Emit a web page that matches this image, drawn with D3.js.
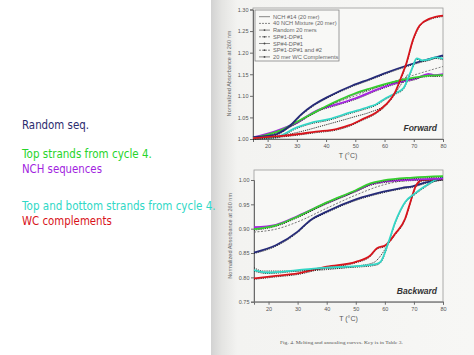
<!DOCTYPE html>
<html><head><meta charset="utf-8">
<script src="https://cdn.jsdelivr.net/npm/d3@7"></script>
<style>html,body{margin:0;padding:0;background:#fff;}svg{display:block;}</style>
</head><body>
<script>
// ---- data ----
const slideLines = [
  {text:"Random seq.", color:"#2b2b6e", y:129, w:67},
  {text:"Top strands from cycle 4.", color:"#27d42a", y:158, w:130},
  {text:"NCH sequences", color:"#a21fe0", y:173, w:80},
  {text:"Top and bottom strands from cycle 4.", color:"#2fd8c6", y:210, w:194},
  {text:"WC complements", color:"#d8131a", y:225, w:90}
];
const legendLabels = ["NCH #14 (20 mer)","40 NCH Mixture (20 mer)","Random 20 mers","SP#1-DP#1","SP#4-DP#1","SP#1-DP#1 and #2","20 mer WC Complements"];
const xTicks = [20,30,40,50,60,70,80];
const fwdYTicks = [1.00,1.05,1.10,1.15,1.20,1.25,1.30];
const bwdYTicks = [0.75,0.80,0.85,0.90,0.95,1.00];

// Forward (melting)
const fwdRandom = [[15,1.004],[20,1.007],[23,1.011],[27.5,1.030],[31.5,1.057],[35.5,1.078],[41,1.099],[49,1.124],[55,1.139],[59.5,1.151],[68.5,1.172],[74,1.183],[80,1.194]];
const fwdGreen  = [[15,1.003],[20,1.010],[25,1.022],[30,1.040],[35,1.058],[40,1.076],[45,1.092],[50,1.106],[55,1.117],[59.5,1.126],[66,1.137],[70,1.142],[75,1.147],[80,1.148]];
const fwdPurple = [[15,1.004],[23,1.019],[30,1.038],[36.5,1.065],[43.5,1.080],[50,1.094],[58,1.116],[64,1.130],[71,1.141],[75,1.151],[77,1.148],[80,1.150]];
const fwdGrayDash = [[15,1.002],[25,1.018],[32,1.045],[40,1.075],[50,1.100],[60,1.126],[70,1.148],[80,1.168]];
const fwdCyan   = [[15,1.002],[23,1.005],[30,1.027],[34.5,1.037],[41,1.046],[48,1.061],[54,1.073],[57,1.080],[60.5,1.095],[64,1.107],[66.5,1.118],[68,1.140],[69.5,1.165],[71,1.187],[73,1.182],[75,1.184],[77.5,1.189],[80,1.186]];
const fwdRed    = [[15,1.002],[23,1.006],[30,1.011],[36.5,1.017],[43.5,1.023],[48,1.032],[52.5,1.046],[57,1.061],[60.5,1.080],[63.5,1.107],[65.8,1.145],[67.5,1.176],[69.7,1.229],[72,1.263],[75.5,1.279],[80,1.286]];
const fwdBlackDot = [[15,1.000],[25,1.008],[30,1.015],[40,1.033],[50,1.052],[55,1.062],[60,1.078],[63,1.100],[66,1.130],[68,1.150]];

// Backward (annealing)
const bwdRandom = [[15,0.851],[22.5,0.866],[30,0.894],[34.5,0.918],[40,0.935],[50,0.960],[59.5,0.976],[66,0.984],[69.5,0.987],[74,0.995],[80,1.002]];
const bwdGreen  = [[15,0.899],[22.5,0.907],[30,0.925],[40,0.954],[50,0.979],[55,0.993],[59.5,0.999],[69.5,1.005],[80,1.008]];
const bwdPurple = [[15,0.903],[22.5,0.908],[30,0.926],[40,0.953],[50,0.978],[55,0.991],[60,0.997],[70,1.001],[80,1.003]];
const bwdGrayDash = [[15,0.893],[22.5,0.899],[30,0.914],[40,0.942],[50,0.969],[59.5,0.990],[69.5,1.000],[80,1.002]];
const bwdRed    = [[15,0.798],[22.5,0.803],[30,0.808],[40,0.822],[50,0.832],[55,0.845],[57.3,0.860],[60.2,0.866],[63.6,0.890],[67,0.921],[68.8,0.955],[70.5,0.986],[72.8,1.000],[80,1.002]];
const bwdCyan   = [[15,0.815],[19.5,0.810],[30,0.815],[40,0.820],[50,0.823],[56.8,0.827],[58.5,0.832],[61.3,0.873],[63.6,0.914],[67,0.955],[70.5,0.973],[74,0.988],[77.4,1.000],[80,1.005]];
const bwdBlackDot = [[15,0.820],[18,0.813],[30,0.813],[40,0.816],[50,0.823],[56,0.830],[59,0.848],[61,0.868]];

// ---- drawing ----
const W = 474, H = 355;
const svg = d3.select("body").append("svg").attr("width", W).attr("height", H);
const defs = svg.append("defs");
const grad = defs.append("linearGradient").attr("id","pageGrad").attr("x1","0").attr("x2","1");
grad.append("stop").attr("offset","0").attr("stop-color","#d2d2d2");
grad.append("stop").attr("offset","0.04").attr("stop-color","#e4e4e2");
grad.append("stop").attr("offset","0.10").attr("stop-color","#f3f3f1");
grad.append("stop").attr("offset","1").attr("stop-color","#f7f7f5");
svg.append("rect").attr("x",211).attr("y",0).attr("width",W-211).attr("height",H).attr("fill","url(#pageGrad)");

// slide text (horizontally scaled to the reference widths)
svg.selectAll("text.slide").data(slideLines).join("text")
  .attr("class","slide").attr("x",0).attr("y",0)
  .attr("font-family","'DejaVu Sans', Verdana, sans-serif").attr("font-size",12.5)
  .attr("fill",d=>d.color)
  .text(d=>d.text)
  .each(function(d){
    const nat = this.getComputedTextLength();
    const s = nat > 0 ? d.w/nat : 1;
    d3.select(this).attr("transform",`translate(22,${d.y}) scale(${s},1)`);
  });

const axisColor = "#6a6a6a", tickText = "#555";
function chart(cfg){
  const x = d3.scaleLinear().domain([15,80]).range([cfg.x0, cfg.x1]);
  const y = d3.scaleLinear().domain(cfg.yDomain).range([cfg.yBottom, cfg.yTopVal]);
  const g = svg.append("g");
  g.append("rect").attr("x",cfg.x0).attr("y",cfg.boxTop).attr("width",cfg.x1-cfg.x0).attr("height",cfg.yBottom-cfg.boxTop)
    .attr("fill","#f8f8f6").attr("stroke","#9a9a9a").attr("stroke-width",0.8);
  const xa = g.append("g").attr("transform",`translate(0,${cfg.yBottom})`)
    .call(d3.axisBottom(x).tickValues(xTicks).tickSize(3).tickPadding(2).tickFormat(d3.format("d")));
  const ya = g.append("g").attr("transform",`translate(${cfg.x0},0)`)
    .call(d3.axisLeft(y).tickValues(cfg.yTicks).tickSize(3).tickPadding(1.5).tickFormat(d3.format(".2f")));
  [xa,ya].forEach(a=>{
    a.select(".domain").attr("stroke",axisColor);
    a.selectAll(".tick line").attr("stroke",axisColor);
    a.selectAll("text").attr("fill",tickText).attr("font-size",5.5).attr("font-family","'Liberation Sans', Arial, sans-serif");
  });
  g.append("text").attr("x",(cfg.x0+cfg.x1)/2).attr("y",cfg.yBottom+19).attr("text-anchor","middle")
    .attr("font-family","'Liberation Sans', Arial, sans-serif").attr("font-size",7).attr("fill","#555").text("T (°C)");
  const cy = (cfg.boxTop+cfg.yBottom)/2;
  g.append("text").attr("transform",`translate(${cfg.x0-22},${cy}) rotate(-90)`).attr("text-anchor","middle")
    .attr("font-family","'Liberation Sans', Arial, sans-serif").attr("font-size",5.6).attr("fill","#666").text("Normalized Absorbance at 260 nm");
  g.append("text").attr("x",cfg.x1-6).attr("y",cfg.yBottom-8).attr("text-anchor","end")
    .attr("font-family","'Liberation Sans', Arial, sans-serif").attr("font-size",8.5).attr("font-weight","bold").attr("font-style","italic")
    .attr("fill","#333").text(cfg.label);
  const line = d3.line().x(d=>x(d[0])).y(d=>y(d[1])).curve(d3.curveMonotoneX);
  cfg.series.forEach(s=>{
    if (s.under) g.append("path").attr("d",line(s.data)).attr("fill","none").attr("stroke","#222")
        .attr("stroke-width",1).attr("stroke-dasharray","1.2,1").attr("transform","translate(0,1)");
    g.append("path").attr("d",line(s.data)).attr("fill","none").attr("stroke",s.color)
      .attr("stroke-width",s.width||1.8).attr("stroke-dasharray",s.dash||null).attr("stroke-linejoin","round");
  });
  return {x,y,g};
}

const topChart = chart({x0:253, x1:443, boxTop:8, yBottom:139, yTopVal:9.5, yDomain:[1.00,1.30], yTicks:fwdYTicks, label:"Forward",
  series:[
    {data:fwdGrayDash, color:"#777", width:0.9, dash:"2,1.5"},
    {data:fwdBlackDot, color:"#333", width:1, dash:"1.2,1"},
    {data:fwdPurple, color:"#a524e0", under:true},
    {data:fwdGreen, color:"#35cf2e", under:true},
    {data:fwdRandom, color:"#252a78", under:true},
    {data:fwdCyan, color:"#33d6c6", under:true},
    {data:fwdRed, color:"#d8141c", under:true}
  ]});
const lg = topChart.g.append("g");
lg.append("rect").attr("x",255).attr("y",10).attr("width",84).attr("height",51).attr("fill","#f8f8f6").attr("stroke","#777").attr("stroke-width",0.7);
legendLabels.forEach((t,i)=>{
  const yy = 16.7 + i*6.7;
  lg.append("line").attr("x1",259).attr("x2",270).attr("y1",yy).attr("y2",yy).attr("stroke","#555").attr("stroke-width",0.7)
    .attr("stroke-dasharray", i%2 ? "2,1" : null);
  if (i>=2) lg.append("circle").attr("cx",264.5).attr("cy",yy).attr("r",0.9).attr("fill","#444");
  lg.append("text").attr("x",273).attr("y",yy+2).attr("font-family","'Liberation Sans', Arial, sans-serif")
    .attr("font-size",5.7).attr("fill","#666").text(t);
});

chart({x0:254, x1:443, boxTop:170, yBottom:301.7, yTopVal:180, yDomain:[0.75,1.00], yTicks:bwdYTicks, label:"Backward",
  series:[
    {data:bwdGrayDash, color:"#666", width:0.9, dash:"2,1.5"},
    {data:bwdBlackDot, color:"#333", width:1, dash:"1.2,1"},
    {data:bwdRandom, color:"#252a78", under:true},
    {data:bwdRed, color:"#d8141c", under:true},
    {data:bwdCyan, color:"#33d6c6", under:true},
    {data:bwdPurple, color:"#a524e0", under:true},
    {data:bwdGreen, color:"#35cf2e", under:true}
  ]});

svg.append("text").attr("x",280).attr("y",344).attr("font-family","'Liberation Serif', serif").attr("font-size",4.6)
  .attr("fill","#555").attr("textLength",123).attr("lengthAdjust","spacingAndGlyphs")
  .text("Fig. 4. Melting and annealing curves. Key is in Table 3.");
</script>
</body></html>
